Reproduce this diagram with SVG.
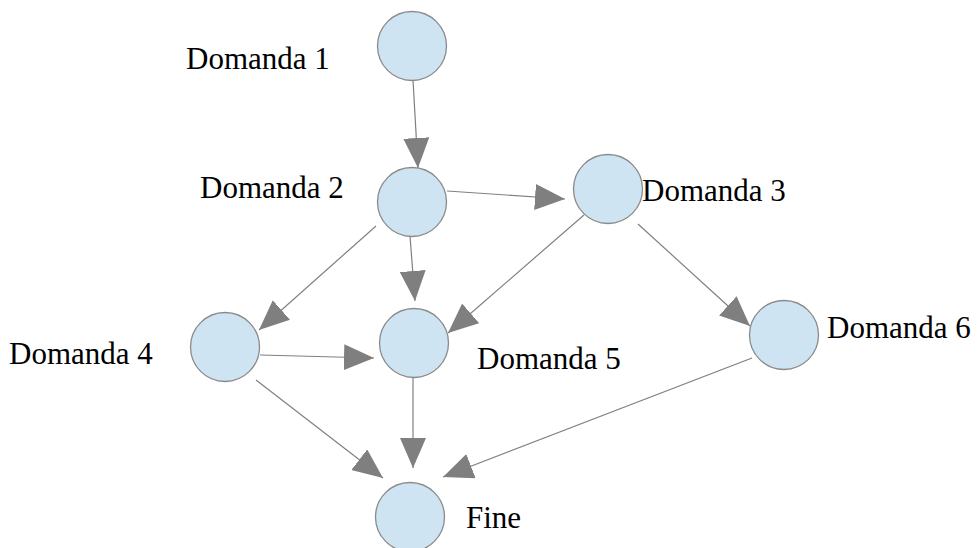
<svg xmlns="http://www.w3.org/2000/svg" width="977" height="548" viewBox="0 0 977 548">
<style>
.node{fill:#cfe4f3;stroke:#8a8a8a;stroke-width:1.3}
.lbl{font-family:"Liberation Serif","Times New Roman",serif;font-size:31px;fill:#000}
.edge{stroke:#808080;stroke-width:1.2;fill:none;marker-end:url(#arr)}
</style>
<defs>
<marker id="arr" markerUnits="userSpaceOnUse" markerWidth="32" markerHeight="28" refX="30" refY="13" orient="auto" viewBox="0 0 32 28">
<path d="M0,0 L30,13 L0,26 Z" fill="#7f7f7f"/>
</marker>
</defs>
<rect width="977" height="548" fill="#fff"/>
<g id="edges">
<path class="edge" d="M413,80 L418,168"/>
<path class="edge" d="M447,191 L565,199"/>
<path class="edge" d="M376,226 L259,330"/>
<path class="edge" d="M410,236 L415,301"/>
<path class="edge" d="M584,215 L448,333"/>
<path class="edge" d="M638,224 L750,326"/>
<path class="edge" d="M260,355 L374,358"/>
<path class="edge" d="M256,380 L383,478"/>
<path class="edge" d="M413,378 L413,468"/>
<path class="edge" d="M752,358 L443,477"/>
</g>
<g id="d1"><circle class="node" cx="412" cy="46" r="34.5"/><text class="lbl" x="186" y="69">Domanda 1</text></g>
<g id="d2"><circle class="node" cx="412" cy="202" r="34.5"/><text class="lbl" x="200" y="198">Domanda 2</text></g>
<g id="d3"><circle class="node" cx="608" cy="189" r="34.5"/><text class="lbl" x="642" y="201">Domanda 3</text></g>
<g id="d4"><circle class="node" cx="225" cy="347" r="34.5"/><text class="lbl" x="9" y="364">Domanda 4</text></g>
<g id="d5"><circle class="node" cx="414" cy="343" r="34.5"/><text class="lbl" x="477" y="369">Domanda 5</text></g>
<g id="d6"><circle class="node" cx="784" cy="335" r="34.5"/><text class="lbl" x="827" y="338">Domanda 6</text></g>
<g id="fine"><circle class="node" cx="410" cy="517" r="34.5"/><text class="lbl" x="466" y="528">Fine</text></g>
</svg>
